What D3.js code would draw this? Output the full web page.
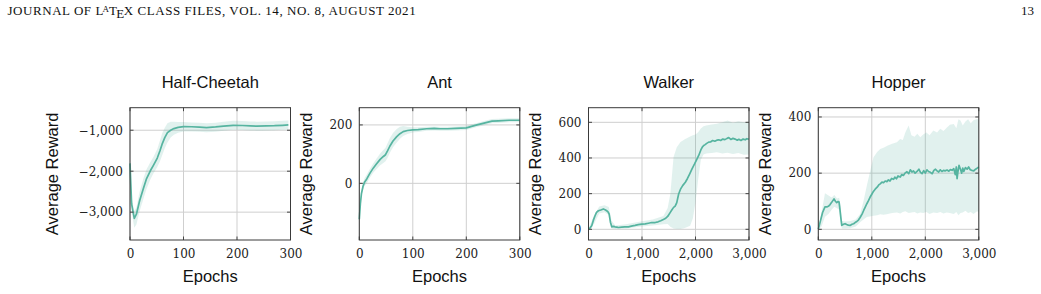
<!DOCTYPE html>
<html>
<head>
<meta charset="utf-8">
<script src="https://cdn.jsdelivr.net/npm/d3@7"></script>
<style>
  body { margin: 0; background: #fff; }
</style>
</head>
<body>
<div id="chart"></div>
<script>
// ---- data ----
// Half-Cheetah
var hcX  = [0, 3, 8, 12, 18, 25, 31, 38, 44, 51, 56, 60, 65, 70, 76, 82, 90, 100, 115, 130, 143, 160, 175, 193, 210, 225, 237, 255, 270, 285, 296];
var hcY  = [-1810, -2800, -3150, -3050, -2720, -2420, -2180, -1990, -1850, -1680, -1500, -1340, -1180, -1060, -1000, -960, -930, -910, -915, -925, -935, -920, -900, -880, -885, -895, -900, -895, -890, -880, -870];
var hcHi = [-1760, -2650, -2980, -2880, -2500, -2180, -1950, -1780, -1650, -1460, -1250, -1080, -940, -830, -790, -790, -800, -800, -810, -820, -830, -815, -790, -770, -775, -785, -790, -785, -780, -770, -760];
var hcLo = [-1860, -2980, -3380, -3300, -2980, -2680, -2430, -2200, -2050, -1900, -1760, -1620, -1440, -1300, -1180, -1110, -1060, -1030, -1030, -1040, -1050, -1035, -1010, -990, -995, -1005, -1010, -1005, -1000, -990, -980];

// Ant
var antX  = [0, 2, 4, 7, 10, 14, 20, 26, 32, 39, 45, 49, 53, 57, 63, 70, 76, 82, 90, 100, 110, 126, 140, 151, 165, 180, 200, 210, 220, 235, 248, 260, 280, 300];
var antY  = [-123, -70, -35, -10, 5, 15, 35, 52, 66, 82, 92, 98, 112, 127, 145, 160, 170, 177, 181, 183, 184, 187, 188, 187, 187, 188, 190, 195, 200, 207, 213, 214, 216, 216];
var antHi = [-115, -60, -25, 2, 18, 30, 50, 68, 84, 102, 114, 122, 138, 154, 172, 186, 194, 196, 194, 192, 192, 194, 195, 194, 194, 195, 197, 202, 207, 214, 220, 221, 223, 223];
var antLo = [-131, -80, -45, -22, -8, 0, 20, 36, 48, 62, 70, 76, 88, 104, 124, 140, 153, 162, 169, 174, 176, 180, 181, 180, 180, 181, 183, 188, 193, 200, 206, 207, 209, 209];

// Walker
var wkX = [0, 30, 60, 90, 122, 150, 185, 230, 278, 310, 340, 365, 385, 410, 435, 470, 497, 530, 560, 620, 680, 747, 800, 870, 930, 997, 1060, 1120, 1180, 1247, 1300, 1350, 1400, 1435, 1480, 1529, 1560, 1591, 1620, 1650, 1685, 1720, 1760, 1810, 1850, 1890, 1935, 1980, 2020, 2060, 2100, 2130, 2154, 2180, 2210, 2247, 2280, 2320, 2360, 2400, 2435, 2470, 2510, 2550, 2590, 2622, 2660, 2700, 2740, 2780, 2810, 2850, 2890, 2930, 2960, 3000];
var wkY = [0, 8, 20, 50, 76, 95, 104, 108, 114, 110, 104, 98, 86, 40, 14, 16, 14, 12, 10, 12, 14, 14, 18, 22, 26, 29, 30, 34, 38, 38, 42, 48, 55, 60, 72, 95, 110, 123, 130, 150, 198, 225, 245, 264, 285, 310, 339, 365, 390, 414, 445, 462, 470, 475, 482, 489, 490, 498, 494, 500, 502, 498, 506, 503, 510, 514, 504, 510, 506, 500, 505, 498, 506, 502, 508, 505];
var wkBandX = [0, 100, 200, 300, 380, 430, 500, 700, 1000, 1200, 1400, 1480, 1530, 1590, 1650, 1720, 1800, 1900, 1950, 2000, 2050, 2100, 2150, 2200, 2300, 2400, 2500, 2600, 2700, 2800, 2900, 3000];
var wkHi = [4, 75, 128, 135, 125, 50, 22, 28, 45, 55, 75, 120, 200, 405, 460, 490, 505, 520, 528, 532, 545, 565, 578, 582, 588, 592, 600, 610, 598, 606, 600, 605];
var wkLo = [-4, 28, 88, 95, 80, 4, 2, 4, 16, 22, 28, 30, 15, 5, 2, 2, 8, 20, 60, 150, 280, 390, 420, 425, 428, 432, 425, 430, 422, 428, 418, 420];

// Hopper
var hpX = [0, 40, 80, 125, 160, 188, 220, 250, 275, 294, 320, 344, 370, 388, 405, 419, 438, 470, 500, 530, 560, 594, 630, 660, 688, 720, 750, 782, 820, 850, 875, 910, 940, 969, 1000, 1030, 1063, 1100, 1130, 1157, 1190, 1220, 1250, 1282, 1310, 1340, 1370, 1407, 1430, 1460, 1490, 1532, 1560, 1590, 1620, 1657, 1690, 1720, 1750, 1780, 1810, 1845, 1880, 1910, 1940, 1970, 2000, 2030, 2060, 2095, 2130, 2160, 2190, 2220, 2250, 2280, 2310, 2340, 2370, 2407, 2440, 2470, 2500, 2532, 2560, 2580, 2594, 2610, 2630, 2657, 2680, 2700, 2720, 2750, 2782, 2810, 2840, 2870, 2907, 2940, 2970, 3000];
var hpY = [0, 30, 60, 80, 80, 82, 88, 96, 103, 108, 100, 95, 99, 97, 70, 45, 14, 18, 20, 17, 15, 14, 18, 20, 24, 28, 33, 42, 55, 68, 78, 92, 103, 115, 125, 135, 143, 150, 158, 162, 168, 166, 172, 170, 176, 172, 181, 178, 186, 180, 190, 186, 195, 192, 200, 205, 198, 212, 204, 208, 200, 206, 214, 203, 198, 209, 200, 212, 206, 203, 198, 210, 214, 208, 204, 212, 206, 210, 208, 211, 207, 213, 210, 216, 195, 222, 180, 205, 228, 214, 200, 218, 206, 220, 214, 222, 212, 210, 208, 214, 218, 222];
var hpBandX = [0, 60, 125, 190, 250, 300, 350, 390, 420, 440, 500, 600, 700, 782, 844, 907, 960, 1032, 1100, 1157, 1220, 1300, 1380, 1470, 1530, 1580, 1626, 1689, 1740, 1800, 1850, 1907, 1960, 2020, 2080, 2150, 2220, 2280, 2340, 2400, 2460, 2532, 2580, 2620, 2657, 2700, 2750, 2800, 2850, 2900, 2970, 3000];
var hpHi = [2, 60, 128, 120, 113, 122, 110, 112, 80, 30, 28, 30, 35, 55, 100, 155, 200, 257, 275, 286, 290, 298, 305, 310, 322, 318, 345, 370, 335, 330, 340, 328, 338, 345, 335, 352, 345, 358, 350, 362, 372, 375, 360, 392, 387, 370, 384, 392, 378, 388, 393, 390];
var hpLo = [-2, 10, 45, 55, 70, 80, 75, 70, 30, 3, 3, 4, 10, 25, 35, 44, 46, 48, 50, 54, 52, 55, 58, 60, 56, 62, 64, 58, 60, 62, 56, 60, 58, 62, 55, 60, 58, 62, 56, 60, 58, 55, 62, 50, 58, 60, 66, 58, 62, 55, 64, 60];

// titles and tick labels
var titles = ["Half-Cheetah", "Ant", "Walker", "Hopper"];
var hcXTicks = [0, 100, 200, 300],   hcYTicks = [-3000, -2000, -1000];
var antXTicks = [0, 100, 200, 300],  antYTicks = [0, 200];
var wkXTicks = [0, 1000, 2000, 3000], wkYTicks = [0, 200, 400, 600];
var hpXTicks = [0, 1000, 2000, 3000], hpYTicks = [0, 200, 400];

// ---- layout ----
var svgWidth = 1041, svgHeight = 294;
var plotTop = 107.7, plotW = 160.5, plotH = 132.3;
var lineColor = "#56b4a0";

var panels = [
  { title: titles[0], left: 130,   xDom: [0, 300],  yDom: [-3680, -450], xT: hcXTicks, yT: hcYTicks,
    x: hcX, y: hcY, bx: hcX, lo: hcLo, hi: hcHi, labX: 58 },
  { title: titles[1], left: 359.3, xDom: [0, 300],  yDom: [-194, 259],   xT: antXTicks, yT: antYTicks,
    x: antX, y: antY, bx: antX, lo: antLo, hi: antHi, labX: 312 },
  { title: titles[2], left: 588.5, xDom: [0, 3000], yDom: [-60, 682],    xT: wkXTicks, yT: wkYTicks,
    x: wkX, y: wkY, bx: wkBandX, lo: wkLo, hi: wkHi, labX: 541 },
  { title: titles[3], left: 818.3, xDom: [0, 3000], yDom: [-38, 433],    xT: hpXTicks, yT: hpYTicks,
    x: hpX, y: hpY, bx: hpBandX, lo: hpLo, hi: hpHi, labX: 770.5 }
];

var svg = d3.select("#chart").append("svg")
  .attr("width", svgWidth)
  .attr("height", svgHeight);

// page header
var serif = "'Liberation Serif', 'Times New Roman', serif";
var header = svg.append("text")
  .attr("x", 7.5).attr("y", 15)
  .style("font-family", serif)
  .style("font-size", "13px")
  .style("letter-spacing", "0.55px")
  .attr("fill", "#111");
header.append("tspan").text("JOURNAL OF L");
header.append("tspan").attr("dx", -1.5).attr("dy", -2.6).style("font-size", "9px").text("A");
header.append("tspan").attr("dx", -0.5).attr("dy", 2.6).text("T");
header.append("tspan").attr("dx", -1.2).attr("dy", 3).text("E");
header.append("tspan").attr("dx", -1).attr("dy", -3).text("X");
header.append("tspan").text(" CLASS FILES, VOL. 14, NO. 8, AUGUST 2021");

svg.append("text")
  .attr("x", 1034).attr("y", 15)
  .attr("text-anchor", "end")
  .style("font-family", serif)
  .style("font-size", "13px")
  .attr("fill", "#111")
  .text("13");

var fmt = d3.format(",");
var tickFont = "'DejaVu Serif', serif";
var labelFont = "'Liberation Sans', Arial, sans-serif";

panels.forEach(function (p) {
  var xScale = d3.scaleLinear().domain(p.xDom).range([0, plotW]);
  var yScale = d3.scaleLinear().domain(p.yDom).range([plotH, 0]);

  var g = svg.append("g")
    .attr("transform", "translate(" + p.left + "," + plotTop + ")");

  // grid
  g.selectAll(".gx").data(p.xT).enter().append("line")
    .attr("x1", function (d) { return xScale(d); })
    .attr("x2", function (d) { return xScale(d); })
    .attr("y1", 0).attr("y2", plotH)
    .attr("stroke", "#cfcfcf").attr("stroke-width", 1);
  g.selectAll(".gy").data(p.yT).enter().append("line")
    .attr("y1", function (d) { return yScale(d); })
    .attr("y2", function (d) { return yScale(d); })
    .attr("x1", 0).attr("x2", plotW)
    .attr("stroke", "#cfcfcf").attr("stroke-width", 1);

  // std band
  var bandData = p.bx.map(function (d, i) { return { x: d, lo: p.lo[i], hi: p.hi[i] }; });
  var area = d3.area()
    .x(function (d) { return xScale(d.x); })
    .y0(function (d) { return yScale(d.lo); })
    .y1(function (d) { return yScale(d.hi); });
  g.append("path")
    .datum(bandData)
    .attr("fill", lineColor)
    .attr("fill-opacity", 0.18)
    .attr("d", area);

  // mean line
  var lineData = p.x.map(function (d, i) { return { x: d, y: p.y[i] }; });
  var line = d3.line()
    .x(function (d) { return xScale(d.x); })
    .y(function (d) { return yScale(d.y); });
  g.append("path")
    .datum(lineData)
    .attr("fill", "none")
    .attr("stroke", lineColor)
    .attr("stroke-width", 1.7)
    .attr("stroke-linejoin", "round")
    .attr("d", line);

  // inner tick marks on all four sides
  var tl = 3.5;
  p.xT.forEach(function (d) {
    g.append("line").attr("x1", xScale(d)).attr("x2", xScale(d))
      .attr("y1", plotH).attr("y2", plotH - tl).attr("stroke", "#444");
    g.append("line").attr("x1", xScale(d)).attr("x2", xScale(d))
      .attr("y1", 0).attr("y2", tl).attr("stroke", "#444");
  });
  p.yT.forEach(function (d) {
    g.append("line").attr("y1", yScale(d)).attr("y2", yScale(d))
      .attr("x1", 0).attr("x2", tl).attr("stroke", "#444");
    g.append("line").attr("y1", yScale(d)).attr("y2", yScale(d))
      .attr("x1", plotW).attr("x2", plotW - tl).attr("stroke", "#444");
  });

  // axis box
  g.append("rect")
    .attr("width", plotW).attr("height", plotH)
    .attr("fill", "none").attr("stroke", "#3a3a3a").attr("stroke-width", 1);

  // tick labels via axes
  var xAxis = d3.axisBottom(xScale).tickValues(p.xT).tickFormat(fmt).tickSize(0).tickPadding(9);
  var gx = g.append("g").attr("transform", "translate(0," + plotH + ")").call(xAxis);
  var yAxis = d3.axisLeft(yScale).tickValues(p.yT).tickFormat(fmt).tickSize(0).tickPadding(7);
  var gy = g.append("g").call(yAxis);
  [gx, gy].forEach(function (a) {
    a.select(".domain").remove();
    a.selectAll("text")
      .style("font-family", tickFont)
      .style("font-size", "12px")
      .attr("fill", "#222");
  });

  // title
  svg.append("text")
    .attr("x", p.left + plotW / 2).attr("y", 87.5)
    .attr("text-anchor", "middle")
    .style("font-family", labelFont).style("font-size", "16.5px")
    .attr("fill", "#111")
    .text(p.title);

  // x label
  svg.append("text")
    .attr("x", p.left + plotW / 2).attr("y", 281.5)
    .attr("text-anchor", "middle")
    .style("font-family", labelFont).style("font-size", "16.5px")
    .attr("fill", "#111")
    .text("Epochs");

  // y label
  svg.append("text")
    .attr("transform", "translate(" + p.labX + "," + (plotTop + plotH / 2) + ") rotate(-90)")
    .attr("text-anchor", "middle")
    .style("font-family", labelFont).style("font-size", "16.5px")
    .attr("fill", "#111")
    .text("Average Reward");
});
</script>
</body>
</html>
